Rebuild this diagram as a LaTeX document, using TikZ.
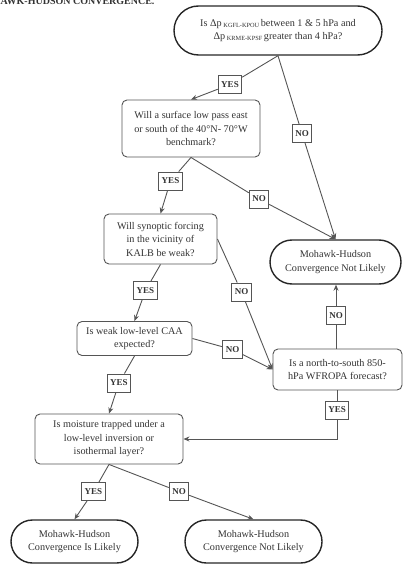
\documentclass[tikz,border=0pt]{standalone}
\usepackage{fontspec}
\setmainfont{Liberation Serif}
\usetikzlibrary{arrows.meta,shapes.misc}
\definecolor{txt}{HTML}{333333}
\definecolor{ln}{HTML}{555555}
\newcommand{\sbs}[1]{\,{\fontsize{6.3}{7}\selectfont\raisebox{-0.35ex}{#1}}\,}
\begin{document}
\begin{tikzpicture}[x=1pt,y=-1pt,
  dec/.style={draw=ln, rounded corners=5pt, line width=0.9pt, align=center,
    font=\fontsize{10.2}{13.5}\selectfont, text=txt, inner sep=1pt},
  term/.style={draw=black!85, rounded rectangle, line width=1.4pt, align=center,
    font=\fontsize{10.2}{13.5}\selectfont, text=txt, inner sep=1pt},
  lab/.style={draw=ln, fill=white, line width=0.9pt, font=\bfseries\fontsize{9}{10}\selectfont,
    text=txt, inner xsep=3pt, inner ysep=0pt, minimum height=18pt},
  con/.style={draw=ln, line width=0.9pt},
  arr/.style={con, -{Stealth[length=6pt,width=5pt]}}
]
\useasboundingbox (0,0) rectangle (403,564);

\node[anchor=base east, font=\bfseries\fontsize{10}{12}\selectfont, text=txt] (cap) at (158,4.5) {MOHAWK-HUDSON CONVERGENCE.};

% decision / terminal nodes
\node[term, minimum width=210pt, minimum height=49pt] (top) at (278,30.5)
  {Is Δp\sbs{KGFL-KPOU}between 1 \& 5 hPa and\\ Δp\sbs{KRME-KPSF}greater than 4 hPa?};
\node[dec, minimum width=138pt, minimum height=57pt] (n2) at (191,128.5)
  {Will a surface low pass east\\ or south of the 40°N- 70°W\\ benchmark?};
\node[dec, minimum width=113pt, minimum height=50pt] (n3) at (160.5,239)
  {Will synoptic forcing\\ in the vicinity of\\ KALB be weak?};
\node[dec, minimum width=115pt, minimum height=34pt] (n4) at (134.5,338.5)
  {Is weak low-level CAA\\ expected?};
\node[dec, minimum width=148pt, minimum height=50pt] (n5) at (109,439)
  {Is moisture trapped under a\\ low-level inversion or\\ isothermal layer?};
\node[dec, minimum width=129pt, minimum height=41pt] (wf) at (337.5,369.5)
  {Is a north-to-south 850-\\ hPa WFROPA forecast?};
\node[term, minimum width=133pt, minimum height=44pt] (nl) at (335.5,262)
  {Mohawk-Hudson\\ Convergence Not Likely};
\node[term, minimum width=129pt, minimum height=43pt] (lk) at (74.5,541.5)
  {Mohawk-Hudson\\ Convergence Is Likely};
\node[term, minimum width=139pt, minimum height=43pt] (nl2) at (253.5,541.5)
  {Mohawk-Hudson\\ Convergence Not Likely};

% labels
\node[lab] (yes1) at (230,84.5) {YES};
\node[lab] (no1) at (302,133.5) {NO};
\node[lab] (yes2) at (170.5,181) {YES};
\node[lab] (no2) at (259,199) {NO};
\node[lab] (yes3) at (145.5,290.5) {YES};
\node[lab] (no3) at (241.5,292) {NO};
\node[lab] (no4) at (232.5,349.5) {NO};
\node[lab] (no5) at (336,315.5) {NO};
\node[lab] (yes4) at (119,383) {YES};
\node[lab] (yes6) at (337,410) {YES};
\node[lab] (yes7) at (93.5,491.5) {YES};
\node[lab] (no7) at (179,491.5) {NO};

% connectors
\draw[con] (top.south) -- (yes1);
\draw[arr] (yes1) -- (n2.north);
\draw[con] (top.south) -- (no1);
\draw[arr] (no1) -- (nl.north);
\draw[con] (n2.south) -- (yes2);
\draw[arr] (yes2) -- (n3.north);
\draw[con] (n2.south) -- (no2);
\draw[arr] (no2) -- (nl.north);
\draw[con] (n3.east) -- (no3);
\draw[arr] (no3) -- (wf.west);
\draw[con] (n3.south) -- (yes3);
\draw[arr] (yes3) -- (n4.north);
\draw[con] (n4.east) -- (no4);
\draw[arr] (no4) -- (wf.west);
\draw[con] (wf.north -| no5) -- (no5);
\draw[arr] (no5) -- (no5 |- nl.south);
\draw[con] (n4.south) -- (yes4);
\draw[arr] (yes4) -- (n5.north);
\draw[con] (wf.south -| yes6) -- (yes6);
\draw[arr] (yes6) |- (n5.east);
\draw[con] (n5.south) -- (yes7);
\draw[arr] (yes7) -- (lk.north);
\draw[con] (n5.south) -- (no7);
\draw[arr] (no7) -- (nl2.north);
\end{tikzpicture}
\end{document}
